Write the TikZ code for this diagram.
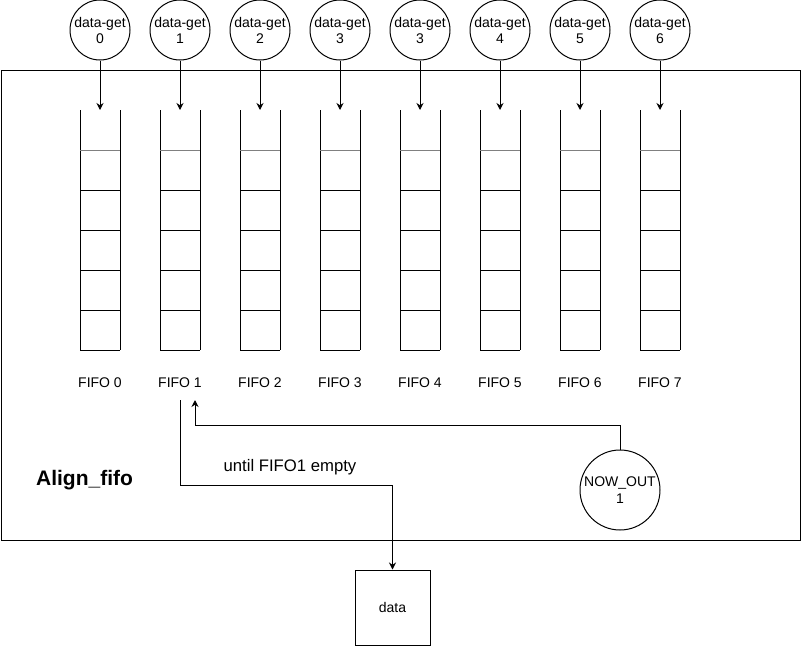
\documentclass[tikz,border=0pt]{standalone}
\usepackage{fontspec}
\setmainfont{Liberation Sans}
\usetikzlibrary{arrows.meta}
\begin{document}
\begin{tikzpicture}[x=1pt,y=-1pt,line width=1pt,
  getnode/.style={circle,draw,minimum size=60pt,inner sep=0pt,align=center,font=\fontsize{14}{16}\selectfont},
  arr/.style={-{Stealth[length=7pt,width=7pt]}},
  lbl/.style={font=\fontsize{14}{16}\selectfont},
  cellline/.style={line width=1pt}]
\useasboundingbox (0,0) rectangle (801,646);
\node[draw,minimum width=799pt,minimum height=470pt,inner sep=0pt,anchor=north west] (outer) at (0.5,70) {};
\foreach \i/\n in {0/0,1/1,2/2,3/3,4/3,5/4,6/5,7/6}{
  \pgfmathsetmacro{\xx}{100+80*\i}
  \node[getnode,fill=white] (g\i) at (\xx,30) {data-get\\\n};
  \coordinate (t\i) at (\xx,110);
  \draw (\xx-20,110) -- (\xx-20,350);
  \draw (\xx+20,110) -- (\xx+20,350);
  \draw[gray] (\xx-20,150) -- (\xx+20,150);
  \foreach \yy in {190,230,270,310,350}{
    \draw (\xx-20,\yy) -- (\xx+20,\yy);
  }
  \node[lbl] (f\i) at (\xx,383) {FIFO \i};
  \draw[arr] (g\i) -- (t\i);
}
\node[font=\fontsize{21}{24}\selectfont\bfseries] (title) at (84.5,480) {Align\_fifo};
\node[circle,draw,minimum size=80pt,inner sep=0pt,align=center,font=\fontsize{14}{16.5}\selectfont] (now) at (620,490) {NOW\_OUT\\1};
\node[draw,minimum size=75pt,inner sep=0pt,lbl] (data) at (392.5,607.5) {data};
\coordinate (f1in) at (195,400);
\coordinate (f1out) at (180,400);
\coordinate (bendA) at (195,425);
\coordinate (bendB) at (180,485);
\draw[arr] (now.north) |- (bendA) -- (f1in);
\draw[arr] (f1out) -- (bendB) -| (data.north);
\node[font=\fontsize{16.7}{18}\selectfont] (until) at (290,467) {until FIFO1 empty};
\end{tikzpicture}
\end{document}
